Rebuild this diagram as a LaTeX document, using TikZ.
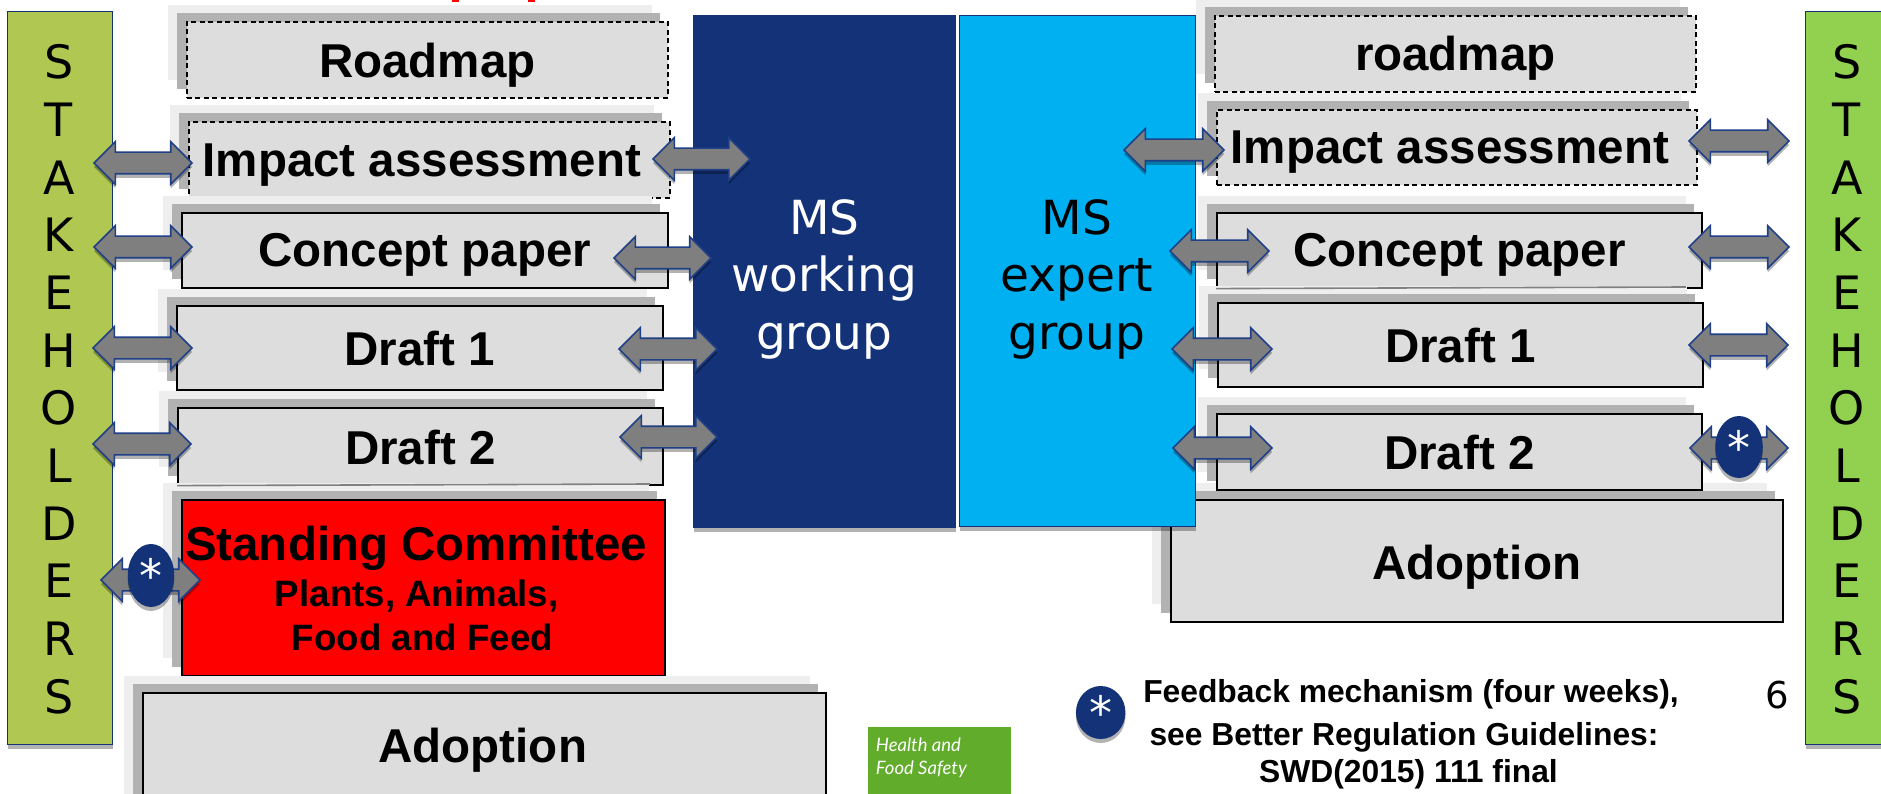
\documentclass[tikz,border=0pt]{standalone}
\usepackage{fontspec}
\setmainfont{Liberation Sans}
\newfontfamily\verd{DejaVu Sans}
\newfontfamily\foot{Lato}[ItalicFont=* Italic]
\usetikzlibrary{shapes.arrows,shapes.geometric,shadows}
\definecolor{boxgray}{HTML}{DDDDDD}
\definecolor{shadowdark}{HTML}{B2B2B2}
\definecolor{shadowlight}{HTML}{EEEEEE}
\definecolor{navy}{HTML}{133278}
\definecolor{arrowblue}{HTML}{1F3F86}
\definecolor{arrowgray}{HTML}{7F7F7F}
\definecolor{cyanbox}{HTML}{00B0F0}
\definecolor{olive}{HTML}{B0C751}
\definecolor{leaf}{HTML}{92D050}
\definecolor{footgreen}{HTML}{61AC2B}
\tikzset{
  x=1pt,y=-1pt,
  softshadow/.style={drop shadow={shadow xshift=0pt,shadow yshift=-4pt,opacity=.3,fill=black}},
  stepbox/.style={draw=black,line width=1.6pt,fill=boxgray,inner sep=0pt,font=\fontsize{47.5}{50}\selectfont\bfseries,align=center},
  dashbox/.style={stepbox,dash pattern=on 5pt off 3.5pt},
  boxlabel/.style={inner sep=0pt,anchor=base,font=\fontsize{47.5}{50}\selectfont\bfseries},
  sublabel/.style={inner sep=0pt,anchor=base,font=\fontsize{36.7}{40}\selectfont\bfseries},
  dblarrow/.style={double arrow,draw=arrowblue,line width=1.6pt,fill=arrowgray,inner xsep=0pt,inner ysep=10pt,
     double arrow head extend=10.5pt,double arrow tip angle=90,softshadow},
  starmark/.style={ellipse,fill=navy,inner sep=0pt,text=white,font=\verd\fontsize{46}{46}\selectfont,softshadow},
  groupbox/.style={draw=navy,line width=1.2pt,inner sep=0pt,softshadow},
  grouplabel/.style={inner sep=0pt,align=center,font=\verd\fontsize{47}{57.5}\selectfont},
  stake/.style={draw=navy,line width=1.2pt,inner sep=0pt,softshadow},
  stakeletter/.style={inner sep=0pt,anchor=base,text=black,font=\verd\fontsize{46}{46}\selectfont},
  legendtext/.style={inner sep=0pt,anchor=base,font=\fontsize{31.8}{34}\selectfont\bfseries}
}
% box with two offset shadow layers: name, x1,y1,x2,y2, style, text
\newcommand{\pbox}[7]{%
  \fill[shadowlight] ({#2-18},{#3-16}) rectangle ({#4-15},{#5-17});
  \fill[shadowdark] ({#2-9},{#3-8}) rectangle ({#4-7},{#5-8});
  \node[#6,minimum width={(#4-#2)*1pt},minimum height={(#5-#3)*1pt},anchor=north west] (#1) at (#2,#3) {#7};
}
\newcommand{\darrow}[4]{\node[dblarrow,minimum height={(#3-#2)*1pt}] (#1) at ({(#2+#3)/2},#4) {};}
\newcommand{\lowered}[2]{\raisebox{-#1}[\height][\depth]{#2}}
\begin{document}
\begin{tikzpicture}
\useasboundingbox (0,0) rectangle (1881,794);
\fill[white] (0,0) rectangle (1881,794);
% cropped red fragments at the top edge
\fill[red] (452,0) rectangle (459,2);
\fill[red] (528,0) rectangle (535,2);
% stakeholders
\node[stake,fill=olive,minimum width=105pt,minimum height=733pt,anchor=north west] (stakeL) at (7,11) {};
\node[stake,fill=leaf,minimum width=90pt,minimum height=733pt,anchor=north west] (stakeR) at (1805,11) {};
\foreach \l [count=\i from 0] in {S,T,A,K,E,H,O,L,D,E,R,S}{
  \node[stakeletter] (sl\i) at (59,{79+\i*57.66}) {\l};
  \node[stakeletter] (sr\i) at (1847,{79+\i*57.66}) {\l};
}
% left column
\pbox{roadL}{186}{21}{667}{97}{dashbox}{\lowered{5pt}{Roadmap}}
\pbox{impL}{188}{121}{669}{197}{dashbox}{\hspace*{-15pt}\lowered{5.3pt}{Impact assessment}}
\pbox{conL}{181}{212}{667}{287}{stepbox}{\lowered{5pt}{Concept paper}}
\pbox{d1L}{176}{305}{662}{389}{stepbox}{\lowered{1pt}{Draft 1}}
\pbox{d2L}{177}{407}{662}{484}{stepbox}{\lowered{1pt}{Draft 2}}
\pbox{scL}{181}{499}{664}{675}{stepbox,fill=red}{}
\draw[line width=1.6pt,draw=gray] (d2L.south west) -- (650,484);
\node[boxlabel] (scT) at (416,560) {Standing Committee};
\node[sublabel] (scS1) at (416.7,606.7) {Plants, Animals,};
\node[sublabel] (scS2) at (422.4,650.7) {Food and Feed};
\pbox{adL}{142}{692}{825}{820}{stepbox}{}
\node[boxlabel] (adLt) at (482.8,762.7) {Adoption};
% right column
\pbox{adR}{1170}{499}{1782}{621}{stepbox}{\lowered{6.5pt}{Adoption}}
\pbox{roadR}{1214}{15}{1695}{91}{dashbox}{\lowered{4.6pt}{roadmap}}
\pbox{impR}{1216}{109}{1696}{184}{dashbox}{\hspace*{-14pt}\lowered{5pt}{Impact assessment}}
\pbox{conR}{1216}{212}{1701}{287}{stepbox}{\lowered{5pt}{Concept paper}}
\pbox{d1R}{1217}{302}{1702}{386}{stepbox}{\lowered{1pt}{Draft 1}}
\draw[line width=1.6pt,draw=gray] (conR.south west) -- (1686,287);
\pbox{d2R}{1216}{413}{1701}{489}{stepbox}{\lowered{1pt}{Draft 2}}
% central groups
\node[groupbox,fill=navy,minimum width=262pt,minimum height=512pt,anchor=north west] (navyG) at (693,15) {};
\node[grouplabel,text=white] (navyT) at (824.3,279) {MS\\working\\group};
\node[groupbox,fill=cyanbox,minimum width=236pt,minimum height=511pt,anchor=north west] (cyanG) at (959,15) {};
\node[grouplabel,text=black] (cyanT) at (1077,279) {MS\\expert\\group};
% block arrows
\darrow{a1}{94}{192}{163}
\darrow{a2}{94}{192}{247}
\darrow{a3}{93}{192}{348}
\darrow{a4}{93}{191}{444}
\darrow{a5}{101}{200}{580}
\darrow{a6}{653}{750}{159}
\darrow{a7}{614}{711}{258}
\darrow{a8}{619}{717}{349}
\darrow{a9}{620}{717}{437}
\darrow{a10}{1124}{1224}{150}
\darrow{a11}{1170}{1269}{251}
\darrow{a12}{1172}{1272}{349}
\darrow{a13}{1173}{1272}{448}
\darrow{a14}{1689}{1789}{141}
\darrow{a15}{1689}{1789}{247}
\darrow{a16}{1689}{1788}{345}
\darrow{a17}{1690}{1788}{448}
% feedback marks
\node[starmark,minimum width=46.5pt,minimum height=63pt] (s1) at (151,575.5) {*};
\node[starmark,minimum width=47.5pt,minimum height=62pt] (s2) at (1739,447) {*};
\node[starmark,minimum width=49.5pt,minimum height=53pt] (s3) at (1100.7,712.5) {*};
% legend
\node[legendtext] (l1) at (1411,702.7) {Feedback mechanism (four weeks),};
\node[legendtext] (l2) at (1404,745) {see Better Regulation Guidelines:};
\node[legendtext] (l3) at (1408.5,782.3) {SWD(2015) 111 final};
\node[inner sep=0pt,anchor=base,font=\verd\fontsize{37}{37}\selectfont] (pg) at (1777,708) {6};
% footer logo
\node[fill=footgreen,minimum width=143pt,minimum height=67pt,anchor=north west,inner sep=0pt] (logo) at (868,727) {};
\node[text=white,inner sep=0pt,align=left,anchor=west,font=\foot\itshape\fontsize{18.5}{23.3}\selectfont] (logoT) at (875.7,757.5) {Health and\\Food Safety};
\end{tikzpicture}
\end{document}
